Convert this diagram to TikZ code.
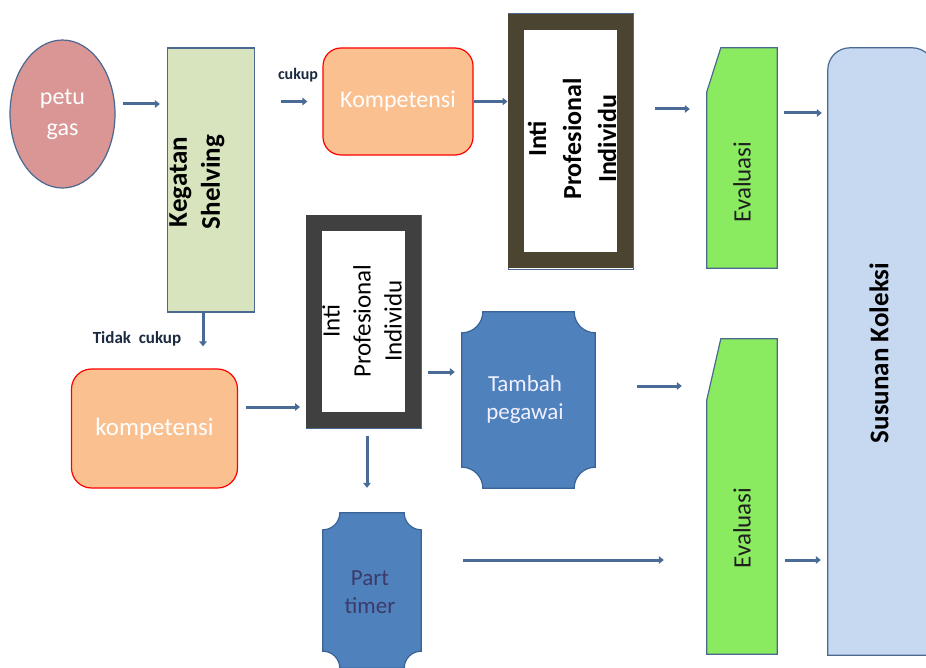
\documentclass[tikz,border=0pt]{standalone}
\usepackage{fontspec}
\setmainfont{Carlito}
\usetikzlibrary{calc,arrows.meta,shapes.geometric}
\definecolor{bord}{HTML}{4A6890}
\definecolor{petfill}{HTML}{D99694}
\definecolor{kegfill}{HTML}{D7E4BD}
\definecolor{kompfill}{HTML}{FAC090}
\definecolor{intiA}{HTML}{4A4430}
\definecolor{intiB}{HTML}{404040}
\definecolor{evfill}{HTML}{8AEB60}
\definecolor{susfill}{HTML}{C6D9F1}
\definecolor{plaqfill}{HTML}{4F81BD}
\definecolor{plaqbord}{HTML}{3A6496}
\definecolor{arrc}{HTML}{4A6B96}
\definecolor{parttext}{HTML}{3D3A6A}
\definecolor{labtext}{HTML}{1A2A40}
\newcommand\drawplaque[3]{%
\draw[#3] ($(#1.north west)+(#2,0)$) -- ($(#1.north east)+(-#2,0)$)
 .. controls ($(#1.north east)+(-#2,0.552*#2)$) and ($(#1.north east)+(-0.552*#2,#2)$) .. ($(#1.north east)+(0,#2)$)
 -- ($(#1.south east)+(0,-#2)$)
 .. controls ($(#1.south east)+(-0.552*#2,-#2)$) and ($(#1.south east)+(-#2,-0.552*#2)$) .. ($(#1.south east)+(-#2,0)$)
 -- ($(#1.south west)+(#2,0)$)
 .. controls ($(#1.south west)+(#2,-0.552*#2)$) and ($(#1.south west)+(0.552*#2,-#2)$) .. ($(#1.south west)+(0,-#2)$)
 -- ($(#1.north west)+(0,#2)$)
 .. controls ($(#1.north west)+(0.552*#2,#2)$) and ($(#1.north west)+(#2,0.552*#2)$) .. ($(#1.north west)+(#2,0)$) -- cycle;}
\begin{document}
\begin{tikzpicture}[x=1pt,y=-1pt,
  arr/.style={draw=arrc,line width=3pt,-{Triangle[length=5pt,width=7.5pt]}},
  thinb/.style={draw=bord,line width=1.2pt},
  box/.style={rectangle,inner sep=0pt},
  shade/.style={rectangle,inner sep=0pt,draw=none},
  vtext/.style={rotate=90,align=center,inner sep=0pt},
  plaq/.style={fill=plaqfill,draw=plaqbord,line width=1.2pt},
  evs/.style={fill=evfill,draw=bord,line width=1.2pt}]
\useasboundingbox (0,0) rectangle (926,668);
\fill[white] (0,0) rectangle (926,668);

% petugas
\node[ellipse,thinb,fill=petfill,minimum width=105pt,minimum height=148pt,inner sep=0pt,
  text=white,align=center,font=\fontsize{24}{31}\selectfont] (pet) at (62.5,114) {petu\\gas};

% Kegatan Shelving
\node[box,thinb,fill=kegfill,minimum width=87pt,minimum height=264pt] (keg) at (211,180) {};
\node[vtext,font=\bfseries\fontsize{27}{33}\selectfont] (kegt) at (197,182) {Kegatan\\Shelving};

% Kompetensi (top)
\node[box,draw=red,line width=1.2pt,fill=kompfill,rounded corners=18pt,minimum width=150pt,minimum height=107pt,
  text=white,font=\fontsize{24}{29}\selectfont] (komp1) at (398,101.5) {Kompetensi};

% Inti Profesional Individu (top)
\draw[bord,line width=0.8pt] (508,13) rectangle (633,269);
\node[box,draw=intiA,line width=16pt,fill=white,minimum width=109pt,minimum height=238pt] (inti1) at (570.5,141) {};
\node[vtext,font=\bfseries\fontsize{26}{35}\selectfont] (inti1t) at (572,139) {Inti\\Profesional\\Individu};

% Evaluasi (top)
\node[shade,minimum width=70pt,minimum height=220pt] (ev1) at (742,158) {};
\draw[evs] ($(ev1.north west)+(14,0)$) -- (ev1.north east) -- (ev1.south east) -- (ev1.south west) -- ($(ev1.north west)+(0,44)$) -- cycle;
\node[vtext,font=\fontsize{25}{30}\selectfont,text=black!88] (ev1t) at (742,182) {Evaluasi};

% Susunan Koleksi
\node[shade,minimum width=106pt,minimum height=607pt] (sus) at (881,351.5) {};
\draw[fill=susfill,draw=bord,line width=1.2pt] (sus.south west) [rounded corners=22pt] -- (sus.north west) -- (sus.north east) [sharp corners] -- (sus.south east) -- cycle;
\node[vtext,font=\bfseries\fontsize{27}{33}\selectfont] (sust) at (879,353) {Susunan Koleksi};

% labels
\node[font=\bfseries\fontsize{16}{19}\selectfont,text=labtext,inner sep=0pt] (cukup) at (298,75) {cukup};
\node[font=\bfseries\fontsize{17}{20}\selectfont,text=labtext,inner sep=0pt] (tidak) at (137,339) {Tidak\ \ cukup};

% kompetensi (lower)
\node[box,draw=red,line width=1.2pt,fill=kompfill,rounded corners=20pt,minimum width=166pt,minimum height=119pt,
  text=white,font=\fontsize{25}{30}\selectfont] (komp2) at (154.5,428.5) {kompetensi};

% Inti Profesional Individu (lower)
\draw[bord,line width=0.8pt] (306,215) rectangle (421,428);
\node[box,draw=intiB,line width=16pt,fill=white,minimum width=99pt,minimum height=197pt] (inti2) at (363.5,321.5) {};
\node[vtext,font=\fontsize{25}{31}\selectfont] (inti2t) at (362,321) {Inti\\Profesional\\Individu};

% Tambah pegawai
\node[shade,minimum width=133pt,minimum height=176pt] (tambah) at (528.5,400) {};
\drawplaque{tambah}{21}{plaq}
\node[align=center,text=white!94!blue,font=\fontsize{23}{28}\selectfont,inner sep=0pt] (tambaht) at (525,399) {Tambah\\pegawai};

% Part timer
\node[shade,minimum width=98pt,minimum height=155pt] (part) at (372,590.5) {};
\drawplaque{part}{17}{plaq}
\node[align=center,text=parttext,font=\fontsize{23}{28}\selectfont,inner sep=0pt] (partt) at (370,592) {Part\\timer};

% Evaluasi (lower)
\node[shade,minimum width=70pt,minimum height=315pt] (ev2) at (742,496.5) {};
\draw[evs] ($(ev2.north west)+(14,0)$) -- (ev2.north east) -- (ev2.south east) -- (ev2.south west) -- ($(ev2.north west)+(0,61)$) -- cycle;
\node[vtext,font=\fontsize{25}{30}\selectfont,text=black!88] (ev2t) at (742,528) {Evaluasi};

% connector start points
\coordinate (c1) at ($(pet.east)+(0,-10)$);
\coordinate (c4) at ($(inti1.east)+(0,-32)$);
\coordinate (c5) at ($(ev1.east)+(0,-45)$);
\coordinate (c6) at ($(keg.south)+(-8,0)$);
\coordinate (c7) at ($(komp2.east)+(0,-21.5)$);
\coordinate (c8) at ($(inti2.east)+(0,50.5)$);
\coordinate (c9) at ($(inti2.south)+(3.5,0)$);
\coordinate (c10) at ($(tambah.east)+(0,-14)$);
\coordinate (c11) at ($(part.east)+(0,-30.5)$);
\coordinate (c12) at ($(ev2.east)+(0,63.5)$);

% connectors
\draw[arr,shorten <=7pt,shorten >=7pt] (c1) -- (c1 -| keg.west);
\draw[arr,shorten <=26pt,shorten >=15pt] (keg.east |- komp1.west) -- (komp1.west);
\draw[arr,shorten >=0.5pt] (komp1.east) -- (komp1.east -| inti1.west);
\draw[arr,shorten <=22pt,shorten >=17pt] (c4) -- (c4 -| ev1.west);
\draw[arr,shorten <=7pt,shorten >=6pt] (c5) -- (c5 -| sus.west);
\draw[arr,shorten >=22pt] (c6) -- (c6 |- komp2.north);
\draw[arr,shorten <=8pt,shorten >=6pt] (c7) -- (c7 -| inti2.west);
\draw[arr,shorten <=7pt,shorten >=7pt] (c8) -- (c8 -| tambah.west);
\draw[arr,shorten <=8pt,shorten >=25pt] (c9) -- (c9 |- part.north);
\draw[arr,shorten <=42pt,shorten >=25pt] (c10) -- (c10 -| ev2.west);
\draw[arr,shorten <=42pt,shorten >=43pt] (c11) -- (c11 -| ev2.west);
\draw[arr,shorten <=8pt,shorten >=7pt] (c12) -- (c12 -| sus.west);
\end{tikzpicture}
\end{document}
